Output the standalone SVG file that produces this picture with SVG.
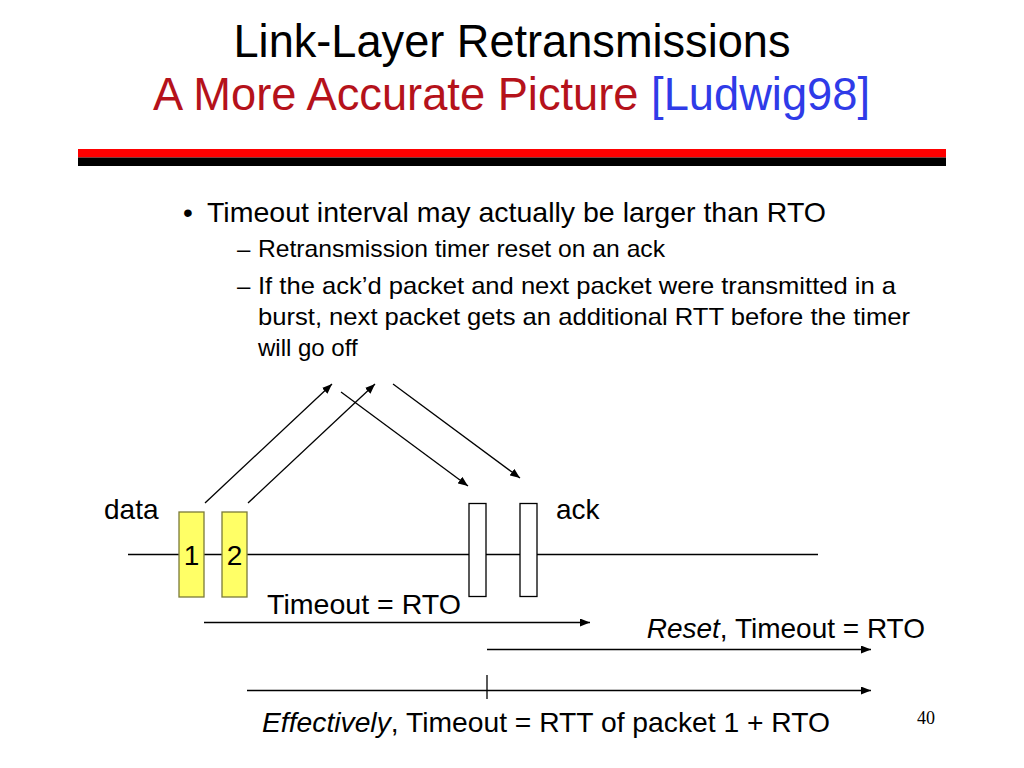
<svg xmlns="http://www.w3.org/2000/svg" width="1024" height="768" viewBox="0 0 1024 768">
<style>
text{font-family:"Liberation Sans",Arial,Helvetica,sans-serif;fill:#000}
.ln{stroke:#000;stroke-width:1.3;fill:none}
.arr{stroke:#000;stroke-width:1.3;fill:none;marker-end:url(#ah)}
.pkt{fill:#FFFF66;stroke:#7a7a3a;stroke-width:1.3}
.ackb{fill:#fff;stroke:#000;stroke-width:1.3}
.t28{font-size:28px}
.t24{font-size:24px}
</style>
<defs>
<marker id="ah" viewBox="0 0 10 8" refX="10" refY="4" markerWidth="10" markerHeight="8" markerUnits="userSpaceOnUse" orient="auto">
<path d="M0,0 L10,4 L0,8 Z" fill="#000"/>
</marker>
</defs>
<rect width="1024" height="768" fill="#fff"/>
<g id="title">
<text x="512" y="57" font-size="47" text-anchor="middle" textLength="557" lengthAdjust="spacingAndGlyphs">Link-Layer Retransmissions</text>
<text x="153" y="110" font-size="47" textLength="717" lengthAdjust="spacingAndGlyphs"><tspan fill="#B5121B">A More Accurate Picture </tspan><tspan fill="#2F3BE8">[Ludwig98]</tspan></text>
</g>
<g id="rule">
<rect x="78" y="149" width="868" height="8.5" fill="#FF0000"/>
<rect x="78" y="157.5" width="868" height="8.5" fill="#000"/>
</g>
<g id="bullets">
<text x="183" y="222" font-size="28">•</text>
<text x="207" y="222" font-size="28" textLength="619" lengthAdjust="spacingAndGlyphs">Timeout interval may actually be larger than RTO</text>
<text x="237" y="257" font-size="24">–</text>
<text x="258" y="257" font-size="24" textLength="407" lengthAdjust="spacingAndGlyphs">Retransmission timer reset on an ack</text>
<text x="237" y="294" font-size="24">–</text>
<text x="258" y="294" font-size="24" textLength="638" lengthAdjust="spacingAndGlyphs">If the ack’d packet and next packet were transmitted in a</text>
<text x="258" y="325" font-size="24" textLength="652" lengthAdjust="spacingAndGlyphs">burst, next packet gets an additional RTT before the timer</text>
<text x="258" y="356" font-size="24">will go off</text>
</g>
<g id="timeline">
<line class="ln" x1="128" y1="554.5" x2="818" y2="554.5"/>
</g>
<g id="labels">
<text x="104" y="519" class="t28">data</text>
<text x="556" y="519" class="t28">ack</text>
</g>
<g id="packet1">
<rect class="pkt" x="179" y="512" width="25" height="85"/>
<text x="191.5" y="565" class="t28" text-anchor="middle">1</text>
</g>
<g id="packet2">
<rect class="pkt" x="222" y="512" width="25" height="85"/>
<text x="234.5" y="565" class="t28" text-anchor="middle">2</text>
</g>
<g id="ack1">
<rect class="ackb" x="469" y="503.5" width="17" height="93"/>
</g>
<g id="ack2">
<rect class="ackb" x="520" y="503.5" width="17" height="93"/>
</g>
<g id="connectors">
<line class="arr" x1="205" y1="503" x2="332" y2="384"/>
<line class="arr" x1="248" y1="503" x2="375" y2="384"/>
<line class="arr" x1="341" y1="392" x2="468" y2="486"/>
<line class="arr" x1="393" y1="384" x2="520" y2="478"/>
<line class="arr" x1="204" y1="622.5" x2="590" y2="622.5"/>
<line class="arr" x1="487" y1="649.5" x2="871" y2="649.5"/>
<line class="arr" x1="247" y1="690.5" x2="871" y2="690.5"/>
<line class="ln" x1="487" y1="675" x2="487" y2="699"/>
</g>
<g id="timeouts">
<text x="267" y="614" class="t28" textLength="194" lengthAdjust="spacingAndGlyphs">Timeout = RTO</text>
<text x="925" y="638" class="t28" text-anchor="end"><tspan font-style="italic">Reset</tspan>, Timeout = RTO</text>
<text x="262" y="732" class="t28" textLength="568" lengthAdjust="spacingAndGlyphs"><tspan font-style="italic">Effectively</tspan>, Timeout = RTT of packet 1 + RTO</text>
</g>
<g id="page">
<text x="917" y="724" font-size="18" style="font-family:'Liberation Serif','Times New Roman',serif">40</text>
</g>
</svg>
